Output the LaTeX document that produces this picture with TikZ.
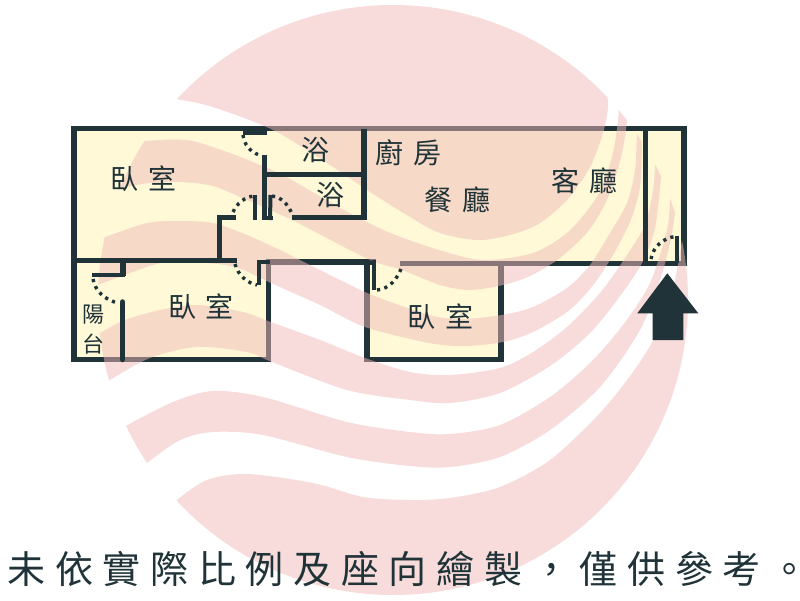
\documentclass[tikz,border=0pt]{standalone}
\usepackage{fontspec}
\newfontfamily\cjk{Noto Sans CJK TC}
\newfontfamily\cjkspaced[LetterSpace=25.5]{Noto Sans CJK TC}
\definecolor{wallc}{RGB}{31,51,56}
\definecolor{roomc}{RGB}{255,249,215}
\definecolor{markc}{RGB}{241,186,184}
\tikzset{
  wall/.style={draw=wallc,line width=5.6pt,line join=miter},
  thinwall/.style={draw=wallc,line width=4pt},
  doorarc/.style={draw=wallc,line width=3.4pt,dash pattern=on 3.2pt off 4.4pt},
  roomlabel/.style={text=wallc,font=\cjk\fontsize{28}{28}\selectfont,inner sep=0pt},
  smalllabel/.style={text=wallc,font=\cjk\fontsize{22}{22}\selectfont,inner sep=0pt},
  notelabel/.style={text=wallc,font=\cjkspaced\fontsize{38}{38}\selectfont,inner sep=0pt},
}
\newcommand{\gapword}[2]{#1\hspace{10pt}#2}
\begin{document}
\begin{tikzpicture}[x=1pt,y=-1pt]
\useasboundingbox (0,0) rectangle (800,600);
\fill[white] (0,0) rectangle (800,600);
% rooms
\fill[roomc] (74,128.5) -- (684,128.5) -- (684,263.5) -- (501,263.5) -- (501,359.5) -- (367,359.5) -- (367,262) -- (268.3,262) -- (268.3,359.5) -- (74,359.5) -- cycle;
% outer walls
\draw[wall] (399.5,263.5) -- (684,263.5) -- (684,128.5) -- (74,128.5) -- (74,359.5) -- (268.3,359.5) -- (268.3,262) -- (375.5,262);
\draw[wall] (367,262) -- (367,359.5) -- (501,359.5) -- (501,263.5);
% watermark
\begin{scope}
\clip (393,300) circle[radius=295pt];
\fill[markc,fill opacity=.5]
  plot[smooth] coordinates {(150,96) (176,99) (213,107) (273,130) (327,163) (367,190) (410,217) (440,233) (483,240) (533,227) (567,200) (590,167) (603,133) (608,107) (606,85)}
  -- (606,-20) -- (150,-20) -- cycle
  plot[smooth] coordinates {(120,142) (143,141) (187,140) (227,152) (260,165) (288,178) (344,210) (388,232) (439,250) (483,260) (533,253) (567,233) (590,207) (602,187) (613,153) (618.5,115) (617,95)}
  -- plot[smooth] coordinates {(628,105) (627,121) (622,153) (610,193) (590,229) (560,258) (530,276) (503,285) (470,290) (440,285) (402,270) (375,262) (344,247) (292,220) (247,200) (213,186) (180,182) (150,183) (120,188) (95,192)} -- cycle
  plot[smooth] coordinates {(85,243) (105,237) (147,223) (180,221) (213,223) (247,235) (280,250) (300,260) (340,280) (372,295) (429,315) (462,319) (502,315) (533,307) (567,288) (590,265) (610,233) (627,203) (635,170) (637,137) (640,120)}
  -- plot[smooth] coordinates {(641,130) (642,143) (640,187) (630,222) (610,260) (590,289) (567,312) (533,332) (503,342) (465,346) (429,343) (365,327) (320,305) (271,283) (235,267) (193,262) (160,263) (97,285) (80,290)} -- cycle
  plot[smooth] coordinates {(85,342) (100,333) (125,320) (160,310) (197,305) (243,312) (268,321) (320,340) (365,358) (410,372) (450,375) (500,368) (533,352) (567,327) (600,293) (625,258) (645,225) (653,190) (655,165) (655,150)}
  -- plot[smooth] coordinates {(662,165) (661,178) (655,228) (642,263) (620,296) (590,333) (550,366) (500,393) (450,403) (410,400) (347,390) (272,362) (247,352) (197,347) (150,358) (108,381) (90,392)} -- cycle
  plot[smooth] coordinates {(105,440) (126,426) (173,402) (213,391) (263,397) (347,422) (410,432) (450,434) (500,425) (550,397) (590,363) (623,325) (650,283) (667,230) (670,200) (672,185)}
  -- plot[smooth] coordinates {(676,195) (675,213) (670,243) (660,280) (640,330) (600,387) (550,430) (500,457) (450,467) (410,466) (347,457) (263,435) (213,432) (180,440) (147,463) (135,475)} -- cycle
  plot[smooth] coordinates {(165,515) (177,500) (207,480) (247,474) (313,483) (363,497) (410,500) (450,498) (500,487) (550,460) (600,413) (633,372) (655,337) (670,300) (678,265) (682,240) (684,225)}
  -- (720,225) -- (720,620) -- (165,620) -- cycle;
\end{scope}
% inner walls
\draw[wall] (74,260.5) -- (236.7,260.5);
\draw[wall] (235.7,217.5) -- (219.5,217.5) -- (219.5,260.5);
\draw[wall] (264.3,155) -- (264.3,220);
\draw[wall] (264.3,174.5) -- (364,174.5);
\draw[wall] (364,128.5) -- (364,217.5) -- (291.7,217.5);
\draw[wall] (645.5,128.5) -- (645.5,263.5);
\draw[wall] (123,260.5) -- (123,275.5);
\draw[wall,line cap=round] (122.5,302) -- (122.5,359.5);
\draw[thinwall] (92.3,275.3) -- (125,275.3);
\draw[thinwall] (242.7,133) -- (267,133);
\draw[thinwall] (255.3,195) -- (255.3,220);
\draw[thinwall] (270.5,195) -- (270,220);
\draw[thinwall] (262,218.3) -- (272.5,218.3);
\draw[thinwall] (257,262) -- (270,262);
\draw[thinwall] (258.6,260) -- (258.6,285);
\draw[thinwall] (374,260) -- (374,290);
\draw[thinwall] (676.7,235.7) -- (676.7,263);
% door swings
\draw[doorarc] (243,135) .. controls (244,145) and (251,152) .. (258,154.5);
\draw[doorarc] (233,212) .. controls (237,203) and (245,197) .. (254,196);
\draw[doorarc] (272,196) .. controls (281,197) and (288,204) .. (292,214);
\draw[doorarc] (235,264) .. controls (238,275) and (247,283) .. (257,285);
\draw[doorarc] (93,279) .. controls (95,291) and (105,300) .. (118,303);
\draw[doorarc] (377,290) .. controls (389,289) and (398,279) .. (402,266);
\draw[doorarc] (651,259) .. controls (653,247) and (663,238) .. (675,236.5);
% entrance arrow
\fill[wallc] (667.3,273.3) -- (698.3,313.3) -- (683.3,313.3) -- (683.3,340) -- (652.7,340) -- (652.7,313.3) -- (637.3,313.3) -- cycle;
% labels
\node[roomlabel] (bedA) at (143.3,178.5) {\gapword{臥}{室}};
\node[roomlabel] (bedB) at (201,306.7) {\gapword{臥}{室}};
\node[roomlabel] (bedC) at (440,317) {\gapword{臥}{室}};
\node[roomlabel] (bathA) at (315.7,150) {浴};
\node[roomlabel] (bathB) at (330.5,195.4) {浴};
\node[roomlabel] (kitchen) at (408,153) {\gapword{廚}{房}};
\node[roomlabel] (dining) at (457,199.5) {\gapword{餐}{廳}};
\node[roomlabel] (living) at (584,181) {\gapword{客}{廳}};
\node[smalllabel] (balA) at (93,314.5) {陽};
\node[smalllabel] (balB) at (93.8,344) {台};
\node[notelabel] (note) at (398,568.5) {未依實際比例及座向繪製，僅供參考。\kern-20pt};
\end{tikzpicture}
\end{document}
